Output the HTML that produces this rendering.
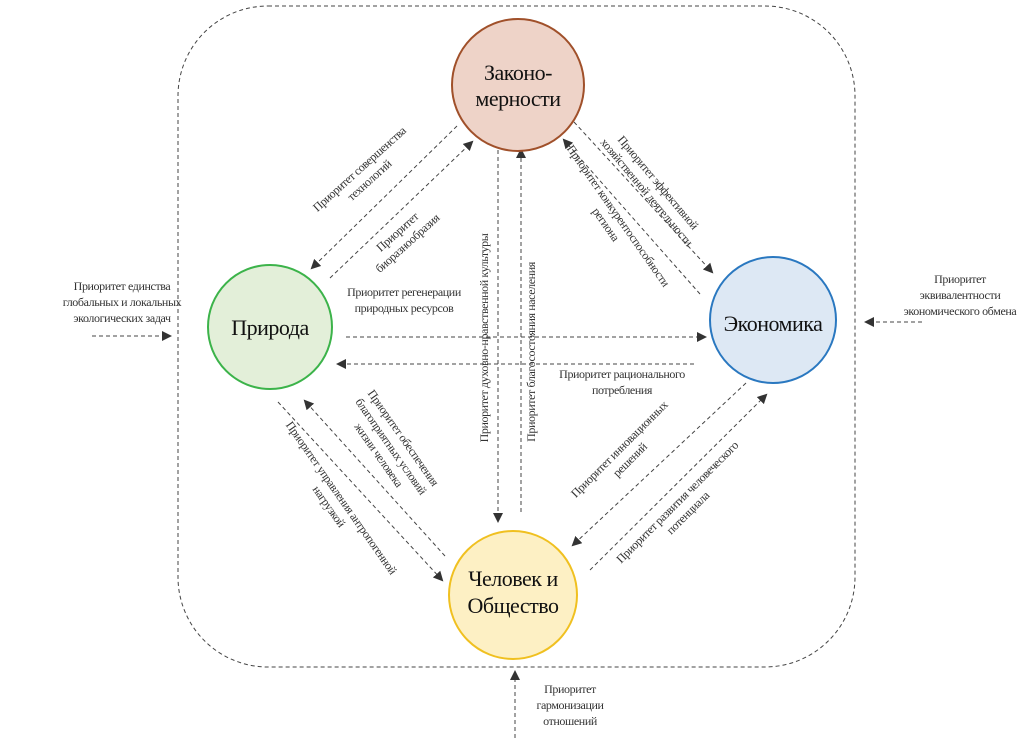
<!DOCTYPE html>
<html><head><meta charset="utf-8"><style>
html,body{margin:0;padding:0;background:#fff;}
svg text{font-family:"Liberation Serif",serif;fill:#333;}
.s{font-size:12px;letter-spacing:-0.4px;}
.b{font-size:22px;fill:#111;letter-spacing:-0.5px;}
</style></head><body>
<svg width="1024" height="742" viewBox="0 0 1024 742" xmlns="http://www.w3.org/2000/svg">
<defs>
<marker id="a" markerWidth="10" markerHeight="10" refX="8" refY="5" orient="auto" markerUnits="userSpaceOnUse">
<path d="M0,0 L10,5 L0,10 z" fill="#333"/></marker>
</defs>
<rect x="178" y="6" width="677" height="661" rx="90" ry="90" fill="none" stroke="#444" stroke-width="1" stroke-dasharray="4,3"/>
<g stroke="#444" stroke-width="1" stroke-dasharray="4,3" fill="none" marker-end="url(#a)">
<line x1="457" y1="126" x2="312" y2="268"/>
<line x1="330" y1="278" x2="472" y2="142"/>
<line x1="574" y1="122" x2="712" y2="272"/>
<line x1="700" y1="294" x2="564" y2="140"/>
<line x1="498" y1="150" x2="498" y2="521"/>
<line x1="521" y1="512" x2="521" y2="150"/>
<line x1="346" y1="337" x2="705" y2="337"/>
<line x1="694" y1="364" x2="338" y2="364"/>
<line x1="278" y1="402" x2="442" y2="580"/>
<line x1="445" y1="556" x2="305" y2="401"/>
<line x1="746" y1="383" x2="573" y2="545"/>
<line x1="590" y1="570" x2="766" y2="395"/>
<line x1="92" y1="336" x2="170" y2="336"/>
<line x1="922" y1="322" x2="866" y2="322"/>
<line x1="515" y1="738" x2="515" y2="672"/>
</g>
<circle cx="518" cy="85" r="66" fill="#eed3c8" stroke="#a0502a" stroke-width="2"/>
<circle cx="270" cy="327" r="62" fill="#e3efd9" stroke="#3cb34a" stroke-width="2"/>
<circle cx="773" cy="320" r="63" fill="#dde8f4" stroke="#2a78c0" stroke-width="2"/>
<circle cx="513" cy="595" r="64" fill="#fdf0c4" stroke="#f0c020" stroke-width="2"/>
<text class="b" x="518" y="80" text-anchor="middle">Законо-</text>
<text class="b" x="518" y="106" text-anchor="middle">мерности</text>
<text class="b" x="270" y="335" text-anchor="middle">Природа</text>
<text class="b" x="773" y="331" text-anchor="middle">Экономика</text>
<text class="b" x="513" y="586" text-anchor="middle">Человек и</text>
<text class="b" x="513" y="613" text-anchor="middle">Общество</text>

<g class="s" text-anchor="middle">
<text x="122" y="290" class="s">Приоритет единства</text>
<text x="122" y="306" class="s">глобальных и локальных</text>
<text x="122" y="322" class="s">экологических задач</text>
<text x="960" y="283" class="s">Приоритет</text>
<text x="960" y="299" class="s">эквивалентности</text>
<text x="960" y="315" class="s">экономического обмена</text>
<text x="570" y="693" class="s">Приоритет</text>
<text x="570" y="709" class="s">гармонизации</text>
<text x="570" y="725" class="s">отношений</text>
<text x="404" y="296" class="s">Приоритет регенерации</text>
<text x="404" y="312" class="s">природных ресурсов</text>
<text x="622" y="378" class="s">Приоритет рационального</text>
<text x="622" y="394" class="s">потребления</text>

<g transform="translate(362,172) rotate(-42)"><text class="s" y="0">Приоритет совершенства</text><text class="s" y="15">технологий</text></g>
<g transform="translate(400,235) rotate(-42)"><text class="s" y="0">Приоритет</text><text class="s" y="15">биоразнообразия</text></g>
<g transform="translate(655,185) rotate(50)"><text class="s" y="0">Приоритет эффективной</text><text class="s" y="15">хозяйственной деятельности</text></g>
<g transform="translate(615,218) rotate(55)"><text class="s" y="0">Приоритет конкурентоспособности</text><text class="s" y="15">региона</text></g>
<g transform="translate(488,338) rotate(-90)"><text class="s" y="0">Приоритет духовно-нравственной культуры</text></g>
<g transform="translate(535,352) rotate(-90)"><text class="s" y="0">Приоритет благосостояния населения</text></g>
<g transform="translate(400,440) rotate(55)"><text class="s" y="0">Приоритет обеспечения</text><text class="s" y="15">благоприятных условий</text><text class="s" y="30">жизни человека</text></g>
<g transform="translate(338,500) rotate(55)"><text class="s" y="0">Приоритет управления антропогенной</text><text class="s" y="15">нагрузкой</text></g>
<g transform="translate(622,452) rotate(-45)"><text class="s" y="0">Приоритет инновационных</text><text class="s" y="15">решений</text></g>
<g transform="translate(680,505) rotate(-45)"><text class="s" y="0">Приоритет развития человеческого</text><text class="s" y="15">потенциала</text></g>
</g>
</svg>
</body></html>
